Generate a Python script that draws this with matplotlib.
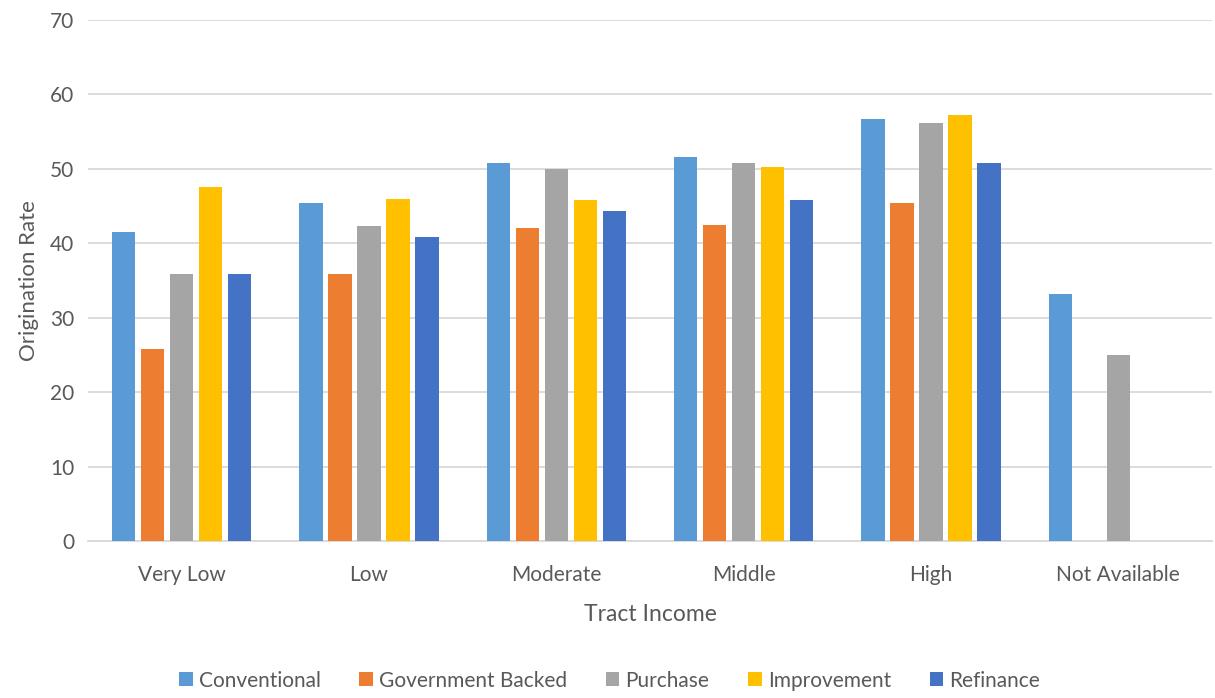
import numpy as np
import matplotlib
matplotlib.use("Agg")
import matplotlib.pyplot as plt

categories = ["Very Low", "Low", "Moderate", "Middle", "High", "Not Available"]
series_names = ["Conventional", "Government Backed", "Purchase", "Improvement", "Refinance"]
conventional = [41.5, 45.4, 50.8, 51.6, 56.7, 33.2]
government_backed = [25.8, 35.9, 42.0, 42.5, 45.4, np.nan]
purchase = [35.9, 42.3, 50.0, 50.8, 56.1, 25.0]
improvement = [47.6, 46.0, 45.8, 50.3, 57.2, np.nan]
refinance = [35.9, 40.9, 44.4, 45.8, 50.8, np.nan]
colors = ["#5B9BD5", "#ED7D31", "#A5A5A5", "#FFC000", "#4472C4"]
yticks = [0, 10, 20, 30, 40, 50, 60, 70]

plt.rcParams['font.family'] = ['Lato', 'DejaVu Sans']

fig = plt.figure(figsize=(12.15, 6.98), dpi=100)
ax = fig.add_axes([88/1215, 1-541/698, (1212-88)/1215, (541-20)/698])

x = np.arange(len(categories))
step = 0.155
width = 0.125
all_series = [conventional, government_backed, purchase, improvement, refinance]
for i, (vals, name, c) in enumerate(zip(all_series, series_names, colors)):
    ax.bar(x + (i - 2) * step, vals, width=width, color=c, label=name, zorder=3)

ax.set_xlim(-0.5, len(categories) - 0.5)
ax.set_ylim(0, 70)
ax.set_yticks(yticks)
ax.set_xticks(x)
ax.set_xticklabels(categories)
ax.grid(axis='y', color='#D9D9D9', linewidth=1.3, zorder=0)
for s in ['top', 'right', 'left']:
    ax.spines[s].set_visible(False)
ax.spines['bottom'].set_color('#D9D9D9')
ax.spines['bottom'].set_linewidth(1.3)
ax.tick_params(axis='both', length=0, labelsize=15, colors='#595959')
ax.tick_params(axis='x', pad=17)
ax.tick_params(axis='y', pad=10)
ax.set_xlabel("Tract Income", fontsize=16.5, color='#595959', labelpad=14)
ax.set_ylabel("Origination Rate", fontsize=16, color='#595959', labelpad=8)

ax.legend(loc='center', bbox_to_anchor=(0.464, -0.268), ncol=5, frameon=False,
          fontsize=15, labelcolor='#595959', handlelength=0.65, handleheight=0.65,
          handletextpad=0.3, columnspacing=1.85)

fig.savefig("out.png", dpi=100)
